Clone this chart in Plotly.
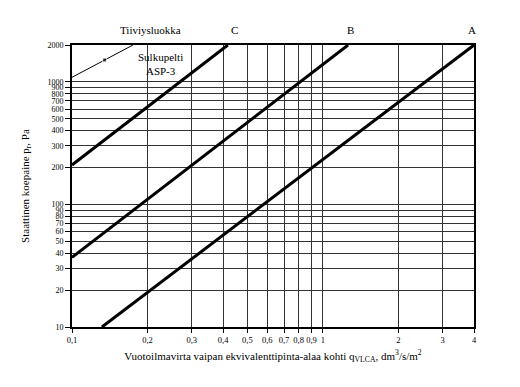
import plotly.graph_objects as go

# Data
line_names = ["A", "B", "C"]
A_q = [0.1316, 4.0]
A_p = [10, 2000]
B_q = [0.1, 1.26]
B_p = [37, 2000]
C_q = [0.1, 0.418]
C_p = [210, 2000]
asp_q = [0.1, 0.135, 0.175]
asp_p = [1090, 1510, 2000]

x_ticks = [0.1, 0.2, 0.3, 0.4, 0.5, 0.6, 0.7, 0.8, 0.9, 1, 2, 3, 4]
x_labels = ["0,1", "0,2", "0,3", "0,4", "0,5", "0,6", "0,7", "0,8", "0,9", "1", "2", "3", "4"]
y_ticks = [10, 20, 30, 40, 50, 60, 70, 80, 90, 100, 200, 300, 400, 500, 600, 700, 800, 900, 1000, 2000]
y_labels = [str(v) for v in y_ticks]

FONT = "Liberation Serif, Times New Roman, serif"

fig = go.Figure()
for q, p in [(A_q, A_p), (B_q, B_p), (C_q, C_p)]:
    fig.add_trace(go.Scatter(x=q, y=p, mode="lines",
                             line=dict(color="black", width=3), showlegend=False))
fig.add_trace(go.Scatter(x=asp_q, y=asp_p, mode="lines+markers",
                         line=dict(color="black", width=1),
                         marker=dict(symbol="square", size=[0, 4, 0], color="black"),
                         showlegend=False))

# page body has an 8px margin, so the figure is 8px smaller and margins shifted
fig.update_layout(
    width=512, height=379,
    margin=dict(l=64, r=46, t=37, b=60),
    paper_bgcolor="white", plot_bgcolor="white",
    font=dict(family=FONT, color="black", size=9),
    xaxis=dict(type="log", range=[-1, 0.60206], tickvals=x_ticks, ticktext=x_labels,
               tickangle=0, automargin=False,
               showgrid=True, gridcolor="#333", gridwidth=1,
               showline=True, linecolor="black", linewidth=2, mirror=True,
               ticks="outside", ticklen=4, tickcolor="black",
               tickfont=dict(size=8.5, family=FONT), zeroline=False,
               title=dict(text="Vuotoilmavirta vaipan ekvivalenttipinta-alaa kohti q<sub>VLCA</sub>, dm<sup>3</sup>/s/m<sup>2</sup>",
                          font=dict(size=11, family=FONT), standoff=8)),
    yaxis=dict(type="log", range=[1, 3.30103], tickvals=y_ticks, ticktext=y_labels,
               automargin=False,
               showgrid=True, gridcolor="#333", gridwidth=1,
               showline=True, linecolor="black", linewidth=2, mirror=True,
               ticks="outside", ticklen=5, tickcolor="black",
               tickfont=dict(size=8, family=FONT), zeroline=False,
               title=dict(text="Staattinen koepaine p<sub>r</sub>, Pa",
                          font=dict(size=11, family=FONT), standoff=16)),
)

pl, pr, pt, pb = 72, 474, 45, 327
annos = [
    ("Tiiviysluokka", 150, 30),
    ("C", 234, 30),
    ("B", 350, 30),
    ("A", 472, 30),
]
for text, px, py in annos:
    fig.add_annotation(text=text, x=(px - pl) / (pr - pl), y=(pb - py) / (pb - pt),
                       xref="paper", yref="paper", xanchor="center", yanchor="middle",
                       showarrow=False, font=dict(size=11, family=FONT, color="black"))
fig.add_annotation(text="Sulkupelti<br>ASP-3", x=(160 - pl) / (pr - pl), y=(pb - 64) / (pb - pt),
                   xref="paper", yref="paper", xanchor="center", yanchor="middle",
                   showarrow=False,
                   font=dict(size=11, family=FONT, color="black"))

fig.write_html("out.html")
